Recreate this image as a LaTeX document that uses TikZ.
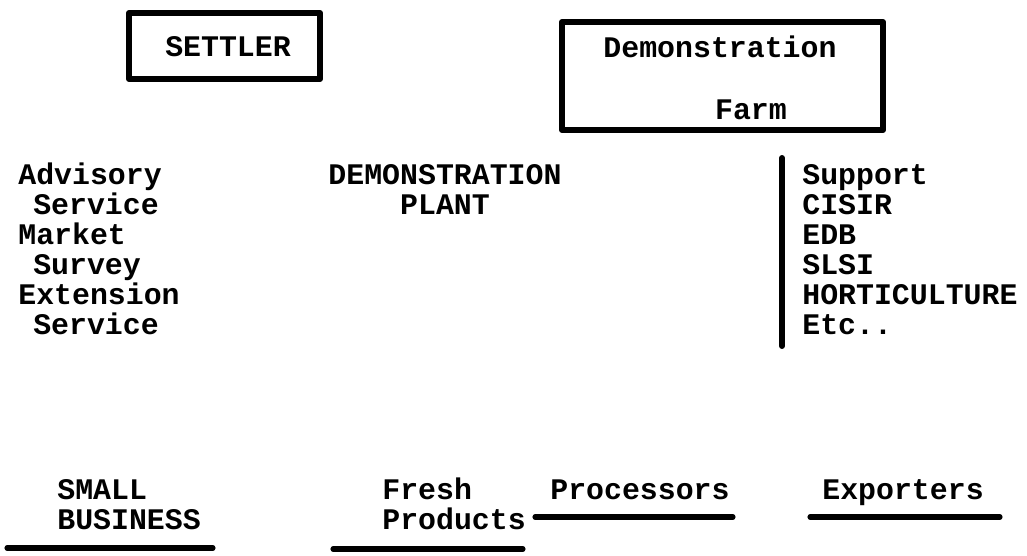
\documentclass[tikz,border=0pt]{standalone}
\usepackage{fontspec}
\setmainfont{Liberation Mono}

\begin{document}
\begin{tikzpicture}[font=\fontsize{17}{17}\selectfont\bfseries,line cap=round,line join=round,
  rim/.style={line width=3.4pt},
  rule/.style={line width=2.9pt},
  txt/.style={inner sep=0pt,align=left,anchor=base west}]
\useasboundingbox (0,0) rectangle (20.54,11.10);
% settler box
\draw[rim] (2.58,9.52) rectangle (6.40,10.84);
\node (settler) at (4.56,10.16) {SETTLER};
% demonstration farm box
\draw[rim] (11.24,8.50) rectangle (17.66,10.66);
\node (demo) at (14.40,10.16) {Demonstration};
\node (farm) at (15.02,8.90) {Farm};
% services (left), base is the last line
\node[txt] (services) at (0.36,4.42)
  {Advisory\\\hspace*{0.5em}Service\\Market\\\hspace*{0.5em}Survey\\Extension\\\hspace*{0.5em}Service};
% plant (middle)
\node[txt,align=center,anchor=base] (plant) at (8.90,6.82) {DEMONSTRATION\\PLANT};
% support (right)
\draw[rule,line width=3.4pt] (15.64,7.94) -- (15.64,4.18);
\node[txt] (support) at (16.04,4.42) {Support\\CISIR\\EDB\\SLSI\\HORTICULTURE\\Etc..};
% outlets along the bottom
\node[txt] (small) at (1.14,0.52) {SMALL\\BUSINESS};
\draw[rule] (0.14,0.14) -- (4.26,0.14);
\node[txt] (fresh) at (7.64,0.52) {Fresh\\Products};
\draw[rule] (6.66,0.12) -- (10.46,0.12);
\node[txt] (proc) at (11.00,1.12) {Processors};
\draw[rule] (10.70,0.76) -- (14.66,0.76);
\node[txt] (export) at (16.44,1.12) {Exporters};
\draw[rule] (16.20,0.76) -- (20.00,0.76);
\end{tikzpicture}
\end{document}
